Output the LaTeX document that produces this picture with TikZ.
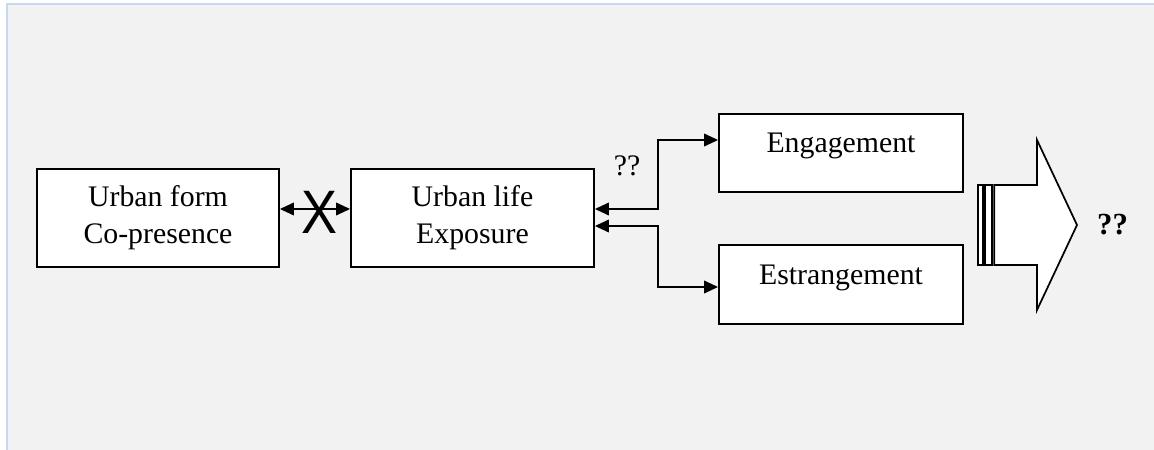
\documentclass[tikz,border=0pt]{standalone}
\usepackage{fontspec}
\setmainfont{Liberation Serif}
\newfontfamily\xsans{Liberation Sans}
\usetikzlibrary{arrows.meta,calc}
\definecolor{bggray}{HTML}{F2F2F2}
\definecolor{bgline}{HTML}{C6D9F0}
\tikzset{
  box/.style={draw=black, line width=1.4pt, fill=white, inner sep=0pt, align=center,
    font=\fontsize{22.35}{27.75}\selectfont},
  lbl/.style={inner sep=0pt, font=\fontsize{22.35}{27.75}\selectfont},
  conn/.style={line width=1.2pt, {Triangle[length=10.5pt,width=9.5pt]}-{Triangle[length=10.5pt,width=9.5pt]}},
  bigarrow/.style={draw=black, line width=1.3pt, fill=white, line join=miter}
}
\begin{document}
\begin{tikzpicture}[x=0.75pt, y=-0.75pt]
\useasboundingbox (0,0) rectangle (1154,450);
\fill[white] (0,0) rectangle (1154,450);
\fill[bggray] (6,3) rectangle (1154,450);
\draw[bgline, line width=1.5pt] (7,450) -- (7,4) -- (1154,4);

% boxes
\node[box, minimum width=181.5pt, minimum height=73.5pt] (form) at (158,218) {Urban form\\Co-presence};
\node[box, minimum width=182.25pt, minimum height=73.5pt] (life) at (472.5,218) {Urban life\\Exposure};
\node[box, minimum width=183pt, minimum height=58.5pt] (eng) at (841,153) {};
\node[lbl, anchor=base] (engt) at (841,152) {Engagement};
\node[box, minimum width=183pt, minimum height=59.25pt] (est) at (841,284.5) {};
\node[lbl, anchor=base] (estt) at (841,284) {Estrangement};

% connectors
\draw[conn] ($(form.east)+(0,-9)$) -- ($(life.west)+(0,-9)$);
\node[inner sep=0pt, font=\xsans\fontsize{46}{46}\selectfont, xscale=0.88] (x) at (319.5,212.5) {X};

\draw[conn] ($(life.east)+(0,-9)$) -- ++(63,0) |- ($(eng.west)+(0,-13)$);
\draw[conn] ($(life.east)+(0,8)$) -- ++(63,0) |- ($(est.west)+(0,2.5)$);
\node[lbl, anchor=base] (q1) at (627,175) {??};

% striped big arrow
\draw[bigarrow] (978.3,185) rectangle (982.8,265);
\draw[bigarrow] (985.2,185) rectangle (991.7,265);
\draw[bigarrow] (994.3,185) -- (1037,185) -- (1037,140) -- (1077,225) -- (1037,310) -- (1037,265) -- (994.3,265) -- cycle;
\coordinate (tip) at (1077,225);

\node[inner sep=0pt, anchor=base, font=\bfseries\fontsize{23}{23}\selectfont] (q2) at (1112.5,234) {??};
\end{tikzpicture}
\end{document}
